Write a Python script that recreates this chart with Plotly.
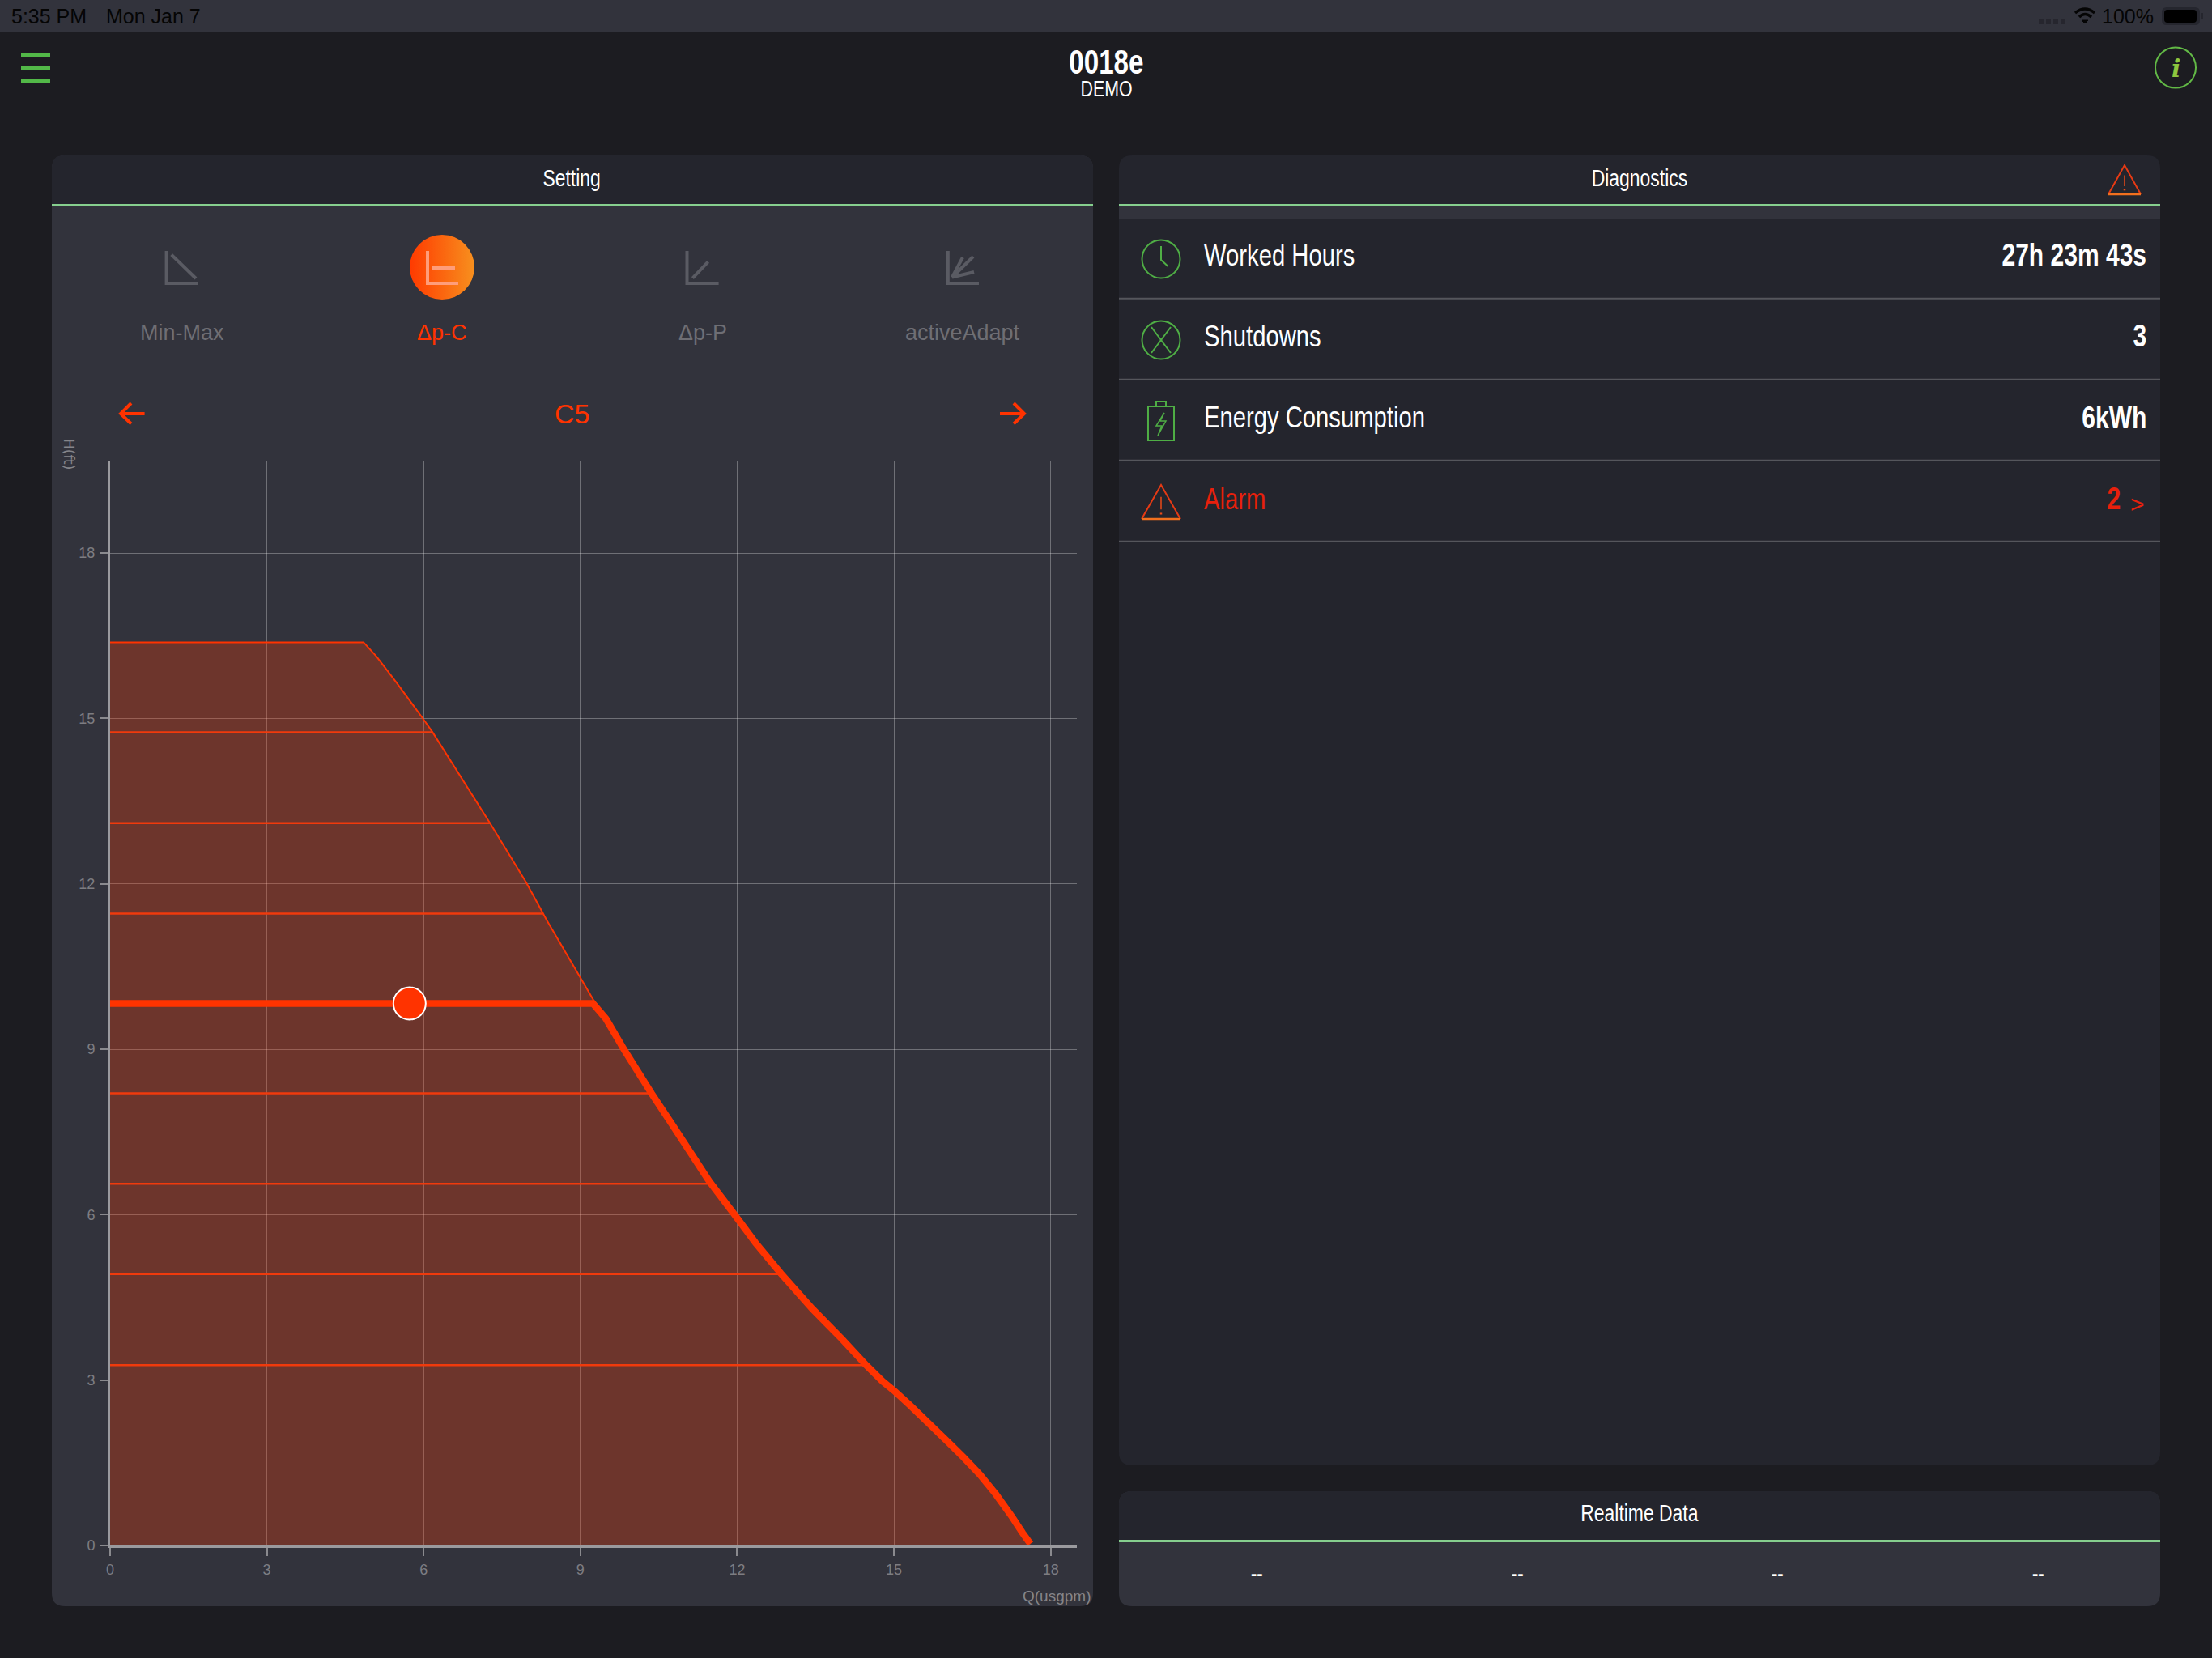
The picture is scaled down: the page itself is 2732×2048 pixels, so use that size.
"""
Pump setting screen: the dp-C curve family plus the surrounding tablet panels
"""
import base64
import plotly.graph_objects as go

W = 2732
H = 2048

# curve
top_q = [0, 4.85, 5.10, 5.48, 6.0, 6.17, 7.27, 7.96, 8.27, 8.35, 9.27]
top_h = [16.38, 16.38, 16.12, 15.65, 14.98, 14.75, 13.10, 12.03, 11.49, 11.35, 9.86]
sel_q = [0, 9.24, 9.49, 9.85, 10.36, 10.80, 11.47, 11.95, 12.35, 12.84, 13.44, 14.0, 14.47, 14.78, 15.0,
         15.30, 15.66, 16.02, 16.33, 16.64, 16.95, 17.26, 17.46, 17.61]
sel_h = [9.83, 9.83, 9.55, 8.97, 8.20, 7.57, 6.60, 6.0, 5.49, 4.93, 4.29, 3.75, 3.27, 2.98, 2.81,
         2.55, 2.22, 1.89, 1.60, 1.29, 0.93, 0.52, 0.23, 0.03]
area_q = [0, 4.85, 5.10, 5.48, 6.0, 6.17, 7.27, 7.96, 8.27, 8.35, 9.27, 9.49, 9.85, 10.36, 10.80, 11.47, 11.95,
          12.35, 12.84, 13.44, 14.0, 14.47, 14.78, 15.0, 15.30, 15.66, 16.02, 16.33, 16.64, 16.95, 17.26, 17.46, 17.61]
area_h = [16.38, 16.38, 16.12, 15.65, 14.98, 14.75, 13.10, 12.03, 11.49, 11.35, 9.86, 9.55, 8.97, 8.20, 7.57, 6.60, 6.0,
          5.49, 4.93, 4.29, 3.75, 3.27, 2.98, 2.81, 2.55, 2.22, 1.89, 1.60, 1.29, 0.93, 0.52, 0.23, 0.03]
level_h = [14.75, 13.10, 11.46, 8.20, 6.56, 4.92, 3.27]
level_q = [6.17, 7.27, 8.27, 10.31, 11.45, 12.81, 14.47]
point_q = [5.73]
point_h = [9.83]
x_ticks = [0, 3, 6, 9, 12, 15, 18]
y_ticks = [0, 3, 6, 9, 12, 15, 18]

mode_names = ["Min-Max", "Δp-C", "Δp-P", "activeAdapt"]
row_names = ["Worked Hours", "Shutdowns", "Energy Consumption", "Alarm"]
row_values = ["27h 23m 43s", "3", "6kWh", "2"]
realtime_values = ["--", "--", "--", "--"]

BG = "#1c1c21"
PANEL = "#32333c"
HEAD = "#24252d"
RED = "#ff3300"
GREEN = "#4fae45"
SANS = "Liberation Sans"
# no narrow face is installed, the script below squeezes anything asking for this one
NARROW = "'Liberation Sans Narrow', 'Liberation Sans'"

SQUEEZE = """
function squeeze() {
  document.querySelectorAll('.annotation-text').forEach(function (t) {
    if (t.style.fontFamily.indexOf('Narrow') < 0 || t.hasAttribute('textLength')) return;
    t.setAttribute('lengthAdjust', 'spacingAndGlyphs');
    t.setAttribute('textLength', t.getComputedTextLength() * 0.79);
  });
}
document.body.style.margin = '0';
squeeze();
setTimeout(squeeze, 100);
"""


def px(x):
    return x / W


def py(y):
    return 1 - y / H


shapes = []
notes = []


def path(points, color, width=2, close=False, fill=None, layer="below"):
    d = "M " + " L ".join(f"{px(a):.5f} {py(b):.5f}" for a, b in points)
    if close:
        d += " Z"
    shapes.append(dict(type="path", xref="paper", yref="paper", path=d, layer=layer,
                       line=dict(color=color, width=width), fillcolor=fill))


def arc(x0, y0, cx, cy, x1, y1, color, width):
    d = f"M {px(x0)} {py(y0)} Q {px(cx)} {py(cy)} {px(x1)} {py(y1)}"
    shapes.append(dict(type="path", xref="paper", yref="paper", path=d, layer="below",
                       line=dict(color=color, width=width)))


def rect(x0, y0, x1, y1, fill):
    shapes.append(dict(type="rect", xref="paper", yref="paper", x0=px(x0), x1=px(x1), y0=py(y0), y1=py(y1),
                       fillcolor=fill, line_width=0, layer="below"))


def circle(cx, cy, r, color, width=2):
    shapes.append(dict(type="circle", xref="paper", yref="paper", x0=px(cx - r), x1=px(cx + r),
                       y0=py(cy - r), y1=py(cy + r), line=dict(color=color, width=width), layer="below"))


def card(x0, y0, x1, y1, fill, r_top=16, r_bottom=16):
    d = (f"M {px(x0)} {py(y0 + r_top)} Q {px(x0)} {py(y0)} {px(x0 + r_top)} {py(y0)} "
         f"L {px(x1 - r_top)} {py(y0)} Q {px(x1)} {py(y0)} {px(x1)} {py(y0 + r_top)} "
         f"L {px(x1)} {py(y1 - r_bottom)} Q {px(x1)} {py(y1)} {px(x1 - r_bottom)} {py(y1)} "
         f"L {px(x0 + r_bottom)} {py(y1)} Q {px(x0)} {py(y1)} {px(x0)} {py(y1 - r_bottom)} Z")
    shapes.append(dict(type="path", xref="paper", yref="paper", path=d, fillcolor=fill, line_width=0, layer="below"))


def label(x, y, text, size, color="#ffffff", anchor="center", family=NARROW, angle=0, bold=False):
    notes.append(dict(xref="paper", yref="paper", x=px(x), y=py(y), text=text, showarrow=False,
                      xanchor=anchor, yanchor="middle", textangle=angle, align=anchor,
                      font=dict(size=size, color=color, family=family, weight="bold" if bold else "normal")))


def warning(x0, y0, x1, y1):
    mid = (x0 + x1) / 2
    path([(x0, y1), (mid, y0), (x1, y1)], "#e63a14", 2)
    path([(x0, y1), (x1, y1)], "#f2701e", 2.5)
    path([(mid, y0 + (y1 - y0) * 0.35), (mid, y0 + (y1 - y0) * 0.72)], "#ec4a18", 1.5)
    path([(mid, y0 + (y1 - y0) * 0.82), (mid, y0 + (y1 - y0) * 0.87)], "#ec4a18", 2.5)


# status bar and app header
rect(0, 0, W, 40, PANEL)
label(12, 20, "5:35 PM", 25, "#050505", "left", SANS)
label(129, 20, "Mon Jan 7", 25, "#050505", "left", SANS)
label(2662, 20, "100%", 25, "#050505", "right", SANS)
for dot_x in [2518, 2527, 2536, 2545]:
    rect(dot_x, 24, dot_x + 6, 30, "#26262e")
arc(2563, 16, 2575, 6, 2587, 16, "#050505", 3.5)
arc(2568, 21, 2575, 14, 2583, 21, "#050505", 3.5)
path([(2571, 25), (2579, 25), (2575, 29)], "#050505", 1, close=True, fill="#050505")
card(2670, 9, 2717, 31, "#25262e", 6, 6)
card(2673, 12, 2713, 28, "#000000", 4, 4)
rect(2719, 16, 2721, 24, "#25262e")

for bar_y in [68, 84, 100]:
    rect(26, bar_y - 2, 62, bar_y + 2, "#52b848")
label(1366, 76, "0018e", 42, bold=True)
label(1366, 110, "DEMO", 27)
circle(2687, 83.5, 25, "#62b946", 2)
label(2687, 84, "<b><i>i</i></b>", 30, "#8dc63f", family="DejaVu Serif")

# setting panel
card(64, 192, 1350, 1984, PANEL)
card(64, 192, 1350, 253, HEAD, 16, 0)
rect(64, 252, 1350, 255, "#86cf8e")
label(706, 220, "Setting", 29)

ICON = "#5a5b63"
path([(205.6, 310), (205.6, 350), (245, 350)], ICON, 4)
path([(211.7, 314.6), (242, 344)], ICON, 4)
path([(848.5, 310), (848.5, 350), (887.6, 350)], ICON, 4)
path([(855.4, 343.7), (874.6, 323.4)], ICON, 4)
path([(1170.8, 310), (1170.8, 350), (1209, 350)], ICON, 4)
path([(1176, 342.5), (1202, 317)], ICON, 4)
path([(1176, 342.5), (1189, 318)], ICON, 4)
path([(1176, 342.5), (1203, 336)], ICON, 4)
path([(528, 310), (528, 350), (566, 350)], "#ff9d7a", 4, layer="above")
path([(533, 331), (562, 331)], "#ff9d7a", 4, layer="above")

for mode_x, name in zip([224.7, 546, 867.6, 1189], mode_names):
    label(mode_x, 411, name, 27, RED if name == "Δp-C" else "#6e6e74", family=SANS)

label(706.5, 511, "C5", 34, RED, family=SANS)
path([(178.6, 511), (149, 511)], RED, 4)
path([(162, 498), (149, 511), (162, 523.5)], RED, 4)
path([(1235, 511), (1265, 511)], RED, 4)
path([(1252, 498), (1265, 511), (1252, 523.5)], RED, 4)
label(85, 561, "H(ft)", 17, "#85858a", family="DejaVu Sans", angle=90)
label(1349, 1971, "Q(usgpm)", 19, "#85858a", "right", SANS)

# diagnostics panel
card(1382, 192, 2668, 1810, HEAD)
rect(1382, 253, 2668, 270, PANEL)
rect(1382, 252, 2668, 255, "#86cf8e")
label(2025, 220, "Diagnostics", 29)
warning(2604, 204, 2644, 240)

row_y = [315, 415, 515.6, 616]
for y_pos, name, value in zip(row_y, row_names, row_values):
    color = "#e8200c" if name == "Alarm" else "#ffffff"
    label(1484.5, y_pos, name, 37, color, "left")
    right_edge = 2621 if name == "Alarm" else 2653
    label(right_edge, y_pos, value, 38, color, "right", bold=True)
label(2651, 622, "&gt;", 30, "#e8200c", "right", SANS)
for sep_y in [368.8, 468.8, 568.8, 668.8]:
    rect(1382, sep_y - 1, 2668, sep_y + 1, "#55565c")

circle(1434, 320, 23.5, GREEN)
path([(1434, 304), (1434, 321), (1442.6, 329)], GREEN, 2)
circle(1434, 420, 23.5, GREEN)
path([(1422, 404), (1446, 436)], GREEN, 2)
path([(1446, 404), (1422, 436)], GREEN, 2)
path([(1418, 502), (1450, 502), (1450, 544), (1418, 544)], GREEN, 2, close=True)
path([(1428, 502), (1428, 496), (1440, 496), (1440, 502)], GREEN, 2)
path([(1438, 510), (1428, 526), (1435, 526), (1430, 538), (1440, 520), (1433, 520)], GREEN, 1.5, close=True)
warning(1410, 599, 1458, 641)

# realtime panel
card(1382, 1842, 2668, 1984, PANEL)
card(1382, 1842, 2668, 1903, HEAD, 16, 0)
rect(1382, 1902, 2668, 1905, "#86cf8e")
label(2025, 1869, "Realtime Data", 29)
for val_x, val in zip([1552, 1874, 2195, 2517], realtime_values):
    label(val_x, 1943, val, 22, "#ffffff", family=SANS, bold=True)

svg = ('<svg xmlns="http://www.w3.org/2000/svg" width="80" height="80">'
       '<defs><linearGradient id="g"><stop offset="0" stop-color="#ff3a00"/>'
       '<stop offset="1" stop-color="#f7901e"/></linearGradient></defs>'
       '<circle cx="40" cy="40" r="40" fill="url(#g)"/></svg>')
grad_src = "data:image/svg+xml;base64," + base64.b64encode(svg.encode()).decode()

fig = go.Figure()
fig.add_trace(go.Scatter(x=area_q, y=area_h, mode="lines", fill="tozeroy", fillcolor="rgba(255,57,7,0.29)",
                         line=dict(color=RED, width=0, simplify=False), showlegend=False))
fig.add_trace(go.Scatter(x=top_q, y=top_h, mode="lines", line=dict(color=RED, width=2, simplify=False),
                         showlegend=False))
for h_val, q_val in zip(level_h, level_q):
    fig.add_trace(go.Scatter(x=[0, q_val], y=[h_val, h_val], mode="lines",
                             line=dict(color="#f03a0c", width=2.4), showlegend=False))
fig.add_trace(go.Scatter(x=sel_q, y=sel_h, mode="lines", line=dict(color=RED, width=8.5, simplify=False),
                         showlegend=False))
fig.add_trace(go.Scatter(x=point_q, y=point_h, mode="markers", showlegend=False,
                         marker=dict(color=RED, size=40, line=dict(color="#ffffff", width=2))))

axis_font = dict(size=18, color="#7d7d82", family=SANS)
fig.update_xaxes(domain=[px(136), px(1330)], range=[0, 18.5], tickvals=x_ticks, ticks="outside", ticklen=10,
                 tickwidth=2, tickcolor="#8a8a8e", tickfont=axis_font, ticklabelstandoff=1, automargin=False,
                 showgrid=True, gridcolor="rgba(255,255,255,0.3)", gridwidth=1.3, zeroline=False,
                 showline=True, linecolor="#9a9a9e", linewidth=3)
fig.update_yaxes(domain=[py(1909), py(570)], range=[0, 19.66], tickvals=y_ticks, ticks="outside", ticklen=10,
                 tickwidth=2, tickcolor="#8a8a8e", tickfont=axis_font, ticklabelstandoff=3, automargin=False,
                 showgrid=True, gridcolor="rgba(255,255,255,0.3)", gridwidth=1.3, zeroline=False,
                 showline=True, linecolor="#9a9a9e", linewidth=2)
fig.update_layout(width=W, height=H, margin=dict(l=0, r=0, t=0, b=0), paper_bgcolor=BG,
                  plot_bgcolor="rgba(0,0,0,0)", shapes=shapes, annotations=notes,
                  images=[dict(source=grad_src, xref="paper", yref="paper", x=px(506), y=py(290),
                               sizex=80 / W, sizey=80 / H, xanchor="left", yanchor="top",
                               sizing="stretch", layer="above")])

fig.write_html("out.html", config={"displayModeBar": False}, post_script=SQUEEZE)
